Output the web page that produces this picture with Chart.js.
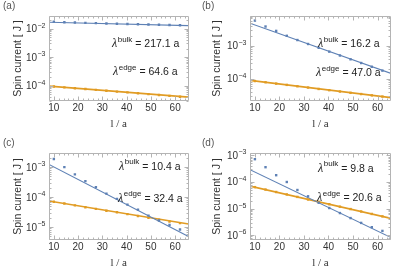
<!DOCTYPE html>
<html><head><meta charset="utf-8">
<script src="https://cdn.jsdelivr.net/npm/chart.js@4/dist/chart.umd.min.js"></script>
<style>
html,body{margin:0;padding:0;background:#fff;}
#wrap{position:relative;width:399px;height:275px;overflow:hidden;background:#fff;}
canvas{position:absolute;}
</style></head><body>
<div id="wrap">
<canvas id="ca" width="199" height="137" style="left:0;top:0"></canvas>
<canvas id="cb" width="200" height="137" style="left:199px;top:0"></canvas>
<canvas id="cc" width="199" height="138" style="left:0;top:137px"></canvas>
<canvas id="cd" width="200" height="138" style="left:199px;top:137px"></canvas>
</div>
<script>
// ---- data ----
const xVals = [10, 14.33, 18.67, 23, 27.33, 31.67, 36, 40.33, 44.67, 49, 53.33, 57.67, 62];
const fitX = [8, 65.5];
const xTicks = [10, 20, 30, 40, 50, 60];

const bulkA = [1.75e-2, 1.66e-2, 1.62e-2, 1.58e-2, 1.55e-2, 1.51e-2, 1.48e-2, 1.45e-2, 1.42e-2, 1.39e-2, 1.36e-2, 1.33e-2, 1.30e-2];
const edgeA = [9.3e-5, 8.7e-5, 8.1e-5, 7.6e-5, 7.1e-5, 6.65e-5, 6.2e-5, 5.8e-5, 5.4e-5, 5.05e-5, 4.7e-5, 4.4e-5, 4.1e-5];
const bulkFitA = [1.66e-2, 1.27e-2];
const edgeFitA = [9.6e-5, 3.95e-5];
const yTicksA = [1e-4, 1e-3, 1e-2];
const yRangeA = [2.9e-5, 2.75e-2];

const bulkB = [6.0e-3, 3.95e-3, 2.9e-3, 2.05e-3, 1.52e-3, 1.15e-3, 8.8e-4, 6.7e-4, 5.1e-4, 3.9e-4, 3.0e-4, 2.3e-4, 1.75e-4];
const edgeB = [8.4e-5, 7.7e-5, 7.0e-5, 6.4e-5, 5.8e-5, 5.3e-5, 4.8e-5, 4.4e-5, 4.0e-5, 3.65e-5, 3.35e-5, 3.05e-5, 2.8e-5];
const bulkFitB = [5.0e-3, 1.44e-4];
const edgeFitB = [8.8e-5, 2.6e-5];
const yTicksB = [1e-4, 1e-3];
const yRangeB = [2.05e-5, 8.3e-3];

const bulkC = [1.85e-3, 1.0e-3, 5.7e-4, 3.4e-4, 2.15e-4, 1.3e-4, 8.7e-5, 5.6e-5, 3.8e-5, 2.4e-5, 1.65e-5, 1.17e-5, 8.3e-6];
const edgeC = [7.0e-5, 6.1e-5, 5.3e-5, 4.6e-5, 4.05e-5, 3.5e-5, 3.1e-5, 2.7e-5, 2.33e-5, 2.03e-5, 1.77e-5, 1.54e-5, 1.35e-5];
const bulkFitC = [1.22e-3, 4.8e-6];
const edgeFitC = [7.4e-5, 1.26e-5];
const yTicksC = [1e-5, 1e-4, 1e-3];
const yRangeC = [3.7e-6, 2.95e-3];

const bulkD = [7.2e-4, 3.6e-4, 1.8e-4, 1.0e-4, 5.0e-5, 2.9e-5, 1.66e-5, 1.05e-5, 6.8e-6, 4.4e-6, 2.9e-6, 2.0e-6, 1.45e-6];
const edgeD = [6.4e-5, 5.2e-5, 4.2e-5, 3.4e-5, 2.75e-5, 2.2e-5, 1.8e-5, 1.46e-5, 1.18e-5, 9.6e-6, 7.8e-6, 6.3e-6, 5.1e-6];
const bulkFitD = [2.9e-4, 8.2e-7];
const edgeFitD = [7.0e-5, 4.3e-6];
const yTicksD = [1e-6, 1e-5, 1e-4, 1e-3];
const yRangeD = [6.6e-7, 1.23e-3];

const lambdaA = ['217.1', '64.6'];
const lambdaB = ['16.2', '47.0'];
const lambdaC = ['10.4', '32.4'];
const lambdaD = ['9.8', '20.6'];

const BLUE = 'rgb(94,129,181)';
const ORANGE = 'rgb(225,156,36)';
const FRAME = '#b4b4b4';
const TXT = '#333';

function pts(xs, ys){ return xs.map((x,i)=>({x:x, y:ys[i]})); }

function makePlugin(cfg){
  return {
    id: 'deco'+cfg.letter,
    afterDraw(chart){
      const ctx = chart.ctx, a = chart.chartArea, sx = chart.scales.x, sy = chart.scales.y;
      ctx.save();
      // frame
      ctx.strokeStyle = FRAME; ctx.lineWidth = 1;
      const L = Math.round(a.left)+0.5, R = Math.round(a.right)-0.5, T = Math.round(a.top)+0.5, B = Math.round(a.bottom)-0.5;
      ctx.beginPath(); ctx.rect(L, T, R-L, B-T); ctx.stroke();
      // x ticks
      ctx.beginPath();
      for (let v = 8; v <= 65; v += 2){
        const px = Math.round(sx.getPixelForValue(v))+0.5;
        const len = (v % 10 === 0) ? 4 : 2;
        ctx.moveTo(px, B); ctx.lineTo(px, B-len);
        ctx.moveTo(px, T); ctx.lineTo(px, T+len);
      }
      // y ticks
      const lo = Math.floor(Math.log10(sy.min)), hi = Math.ceil(Math.log10(sy.max));
      for (let e = lo; e <= hi; e++){
        for (let m = 1; m <= 9; m++){
          const v = m*Math.pow(10,e);
          if (v < sy.min || v > sy.max) continue;
          const py = Math.round(sy.getPixelForValue(v))+0.5;
          const len = (m===1) ? 4 : 2;
          ctx.moveTo(L, py); ctx.lineTo(L+len, py);
          ctx.moveTo(R, py); ctx.lineTo(R-len, py);
        }
      }
      ctx.stroke();
      ctx.fillStyle = TXT;
      // x tick labels
      ctx.font = "10px 'Liberation Sans'";
      ctx.textAlign = 'center'; ctx.textBaseline = 'middle';
      xTicks.forEach(v=>{ ctx.fillText(String(v), sx.getPixelForValue(v), a.bottom+7); });
      // y tick labels
      cfg.yTicks.forEach(v=>{
        const py = sy.getPixelForValue(v);
        const sup = '\u2212' + String(-Math.round(Math.log10(v)));
        ctx.font = "10px 'Liberation Sans'";
        const w10 = ctx.measureText('10').width;
        ctx.font = "7px 'Liberation Sans'";
        const ws = ctx.measureText(sup).width;
        const x0 = a.left - 4 - w10 - ws;
        ctx.textAlign = 'left'; ctx.textBaseline = 'alphabetic';
        ctx.font = "10px 'Liberation Sans'";
        ctx.fillText('10', x0, py+3.5);
        ctx.font = "7px 'Liberation Sans'";
        ctx.fillText(sup, x0 + w10 + 0.5, py-1);
      });
      // axis titles
      ctx.font = "10.5px 'Liberation Sans'";
      ctx.textAlign = 'center'; ctx.textBaseline = 'middle';
      ctx.save();
      ctx.translate(18, (a.top+a.bottom)/2);
      ctx.rotate(-Math.PI/2);
      ctx.fillText('Spin current [ J ]', 0, 0);
      ctx.restore();
      ctx.font = "11px 'Liberation Serif'";
      ctx.fillText('l / a', (a.left+a.right)/2, a.bottom+23);
      // panel label
      ctx.fillStyle = '#555';
      ctx.font = "10px 'Liberation Sans'";
      ctx.textAlign = 'left';
      ctx.fillText('(' + cfg.letter + ')', 3, 6);
      // lambda annotations
      ctx.fillStyle = '#222';
      const drawLam = (x, y, sup, val) => {
        ctx.textBaseline = 'alphabetic'; ctx.textAlign = 'left';
        ctx.font = "italic 12px 'Liberation Serif'";
        ctx.fillText('\u03BB', x, y+4);
        const wl = ctx.measureText('\u03BB').width;
        ctx.font = "8px 'Liberation Sans'";
        ctx.fillText(sup, x+wl+0.5, y-1.5);
        const ws = ctx.measureText(sup).width;
        ctx.font = "10.5px 'Liberation Sans'";
        ctx.fillText(' = ' + val + ' a', x+wl+0.5+ws, y+4);
      };
      drawLam(cfg.bulkPos[0], cfg.bulkPos[1], 'bulk', cfg.lambda[0]);
      drawLam(cfg.edgePos[0], cfg.edgePos[1], 'edge', cfg.lambda[1]);
      ctx.restore();
    }
  };
}

function makeChart(id, cfg){
  const c = document.getElementById(id);
  new Chart(c, {
    type: 'scatter',
    data: { datasets: [
      { data: pts(fitX, cfg.bulkFit), showLine: true, borderColor: BLUE, borderWidth: 1.1, pointRadius: 0, order: 3 },
      { data: pts(fitX, cfg.edgeFit), showLine: true, borderColor: ORANGE, borderWidth: 1.6, pointRadius: 0, order: 4 },
      { data: pts(xVals, cfg.bulk), showLine: false, pointStyle: 'rect', pointRadius: 1.7, backgroundColor: BLUE, borderWidth: 0, order: 1 },
      { data: pts(xVals, cfg.edge), showLine: false, pointStyle: 'rect', pointRadius: 1.7, backgroundColor: ORANGE, borderWidth: 0, order: 2 }
    ]},
    options: {
      responsive: false, animation: false, devicePixelRatio: 1,
      layout: { padding: cfg.pad },
      plugins: { legend: { display: false }, tooltip: { enabled: false } },
      scales: {
        x: { type: 'linear', min: 8, max: 65.5, display: false },
        y: { type: 'logarithmic', min: cfg.yRange[0], max: cfg.yRange[1], display: false }
      }
    },
    plugins: [makePlugin(cfg)]
  });
}

makeChart('ca', { letter:'a', bulk:bulkA, edge:edgeA, bulkFit:bulkFitA, edgeFit:edgeFitA, yTicks:yTicksA, yRange:yRangeA,
  lambda:lambdaA, bulkPos:[112,43], edgePos:[113,71], pad:{left:49, top:16, right:10.5, bottom:36} });
makeChart('cb', { letter:'b', bulk:bulkB, edge:edgeB, bulkFit:bulkFitB, edgeFit:edgeFitB, yTicks:yTicksB, yRange:yRangeB,
  lambda:lambdaB, bulkPos:[119,43], edgePos:[117,72], pad:{left:51, top:16, right:8, bottom:36} });
makeChart('cc', { letter:'c', bulk:bulkC, edge:edgeC, bulkFit:bulkFitC, edgeFit:edgeFitC, yTicks:yTicksC, yRange:yRangeC,
  lambda:lambdaC, bulkPos:[119,28.5], edgePos:[118,60.5], pad:{left:49, top:16, right:10.5, bottom:35} });
makeChart('cd', { letter:'d', bulk:bulkD, edge:edgeD, bulkFit:bulkFitD, edgeFit:edgeFitD, yTicks:yTicksD, yRange:yRangeD,
  lambda:lambdaD, bulkPos:[119,30.5], edgePos:[118,60], pad:{left:51, top:16, right:8, bottom:35} });
</script>
</body></html>
